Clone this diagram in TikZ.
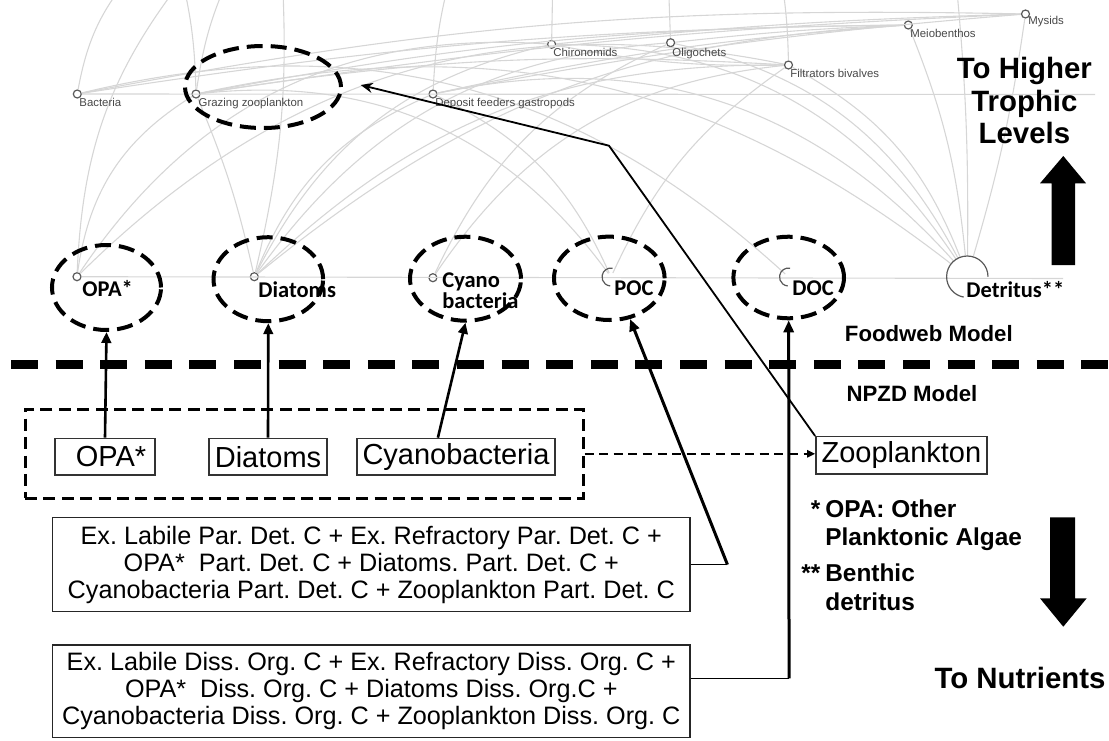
\documentclass[tikz,border=0pt]{standalone}
\usepackage{fontspec}
\setmainfont{Liberation Sans}
\newfontfamily\calibfont{Carlito}
\usetikzlibrary{shapes.geometric,arrows.meta,calc}
\begin{document}
\frenchspacing
\begin{tikzpicture}[x=0.5pt,y=-0.5pt,
  web/.style={draw=black!16, line width=0.55pt},
  fwdot/.style={circle, draw=black!65, line width=0.6pt, inner sep=0pt, minimum size=4pt},
  hub/.style={circle, inner sep=0pt, minimum size=4pt},
  ring/.style={draw=black!65, line width=0.6pt},
  fwlab/.style={anchor=base west, inner sep=0pt, text=black!72, font=\fontsize{5.7}{6.5}\selectfont},
  poollab/.style={anchor=base west, inner sep=0pt, font=\calibfont\bfseries\fontsize{11.25}{10.4}\selectfont},
  pool/.style={ellipse, draw, line width=2pt, dash pattern=on 8pt off 4pt, inner sep=0pt,
    minimum width=55pt, minimum height=42pt},
  plain/.style={draw=black!80, line width=0.7pt, inner sep=0pt, minimum height=18.35pt,
    font=\fontsize{14.5}{16}\selectfont},
  formula/.style={draw=black!85, line width=0.75pt, inner sep=0pt, align=center,
    minimum width=318.7pt, font=\fontsize{12.6}{13.5}\selectfont},
  group/.style={draw, line width=1.5pt, dash pattern=on 6pt off 3.2pt, inner sep=0pt,
    minimum width=279pt, minimum height=44.5pt},
  divider/.style={line width=4.6pt, dash pattern=on 13.5pt off 8.8pt},
  feed/.style={line width=1.3pt, -{Triangle[length=5.5pt,width=4.8pt]}},
  bigfeed/.style={line width=1.5pt, -{Triangle[length=6pt,width=5pt]}},
  link/.style={line width=0.7pt},
  zlink/.style={line width=0.9pt, -{Stealth[length=6pt,width=5pt]}},
  dashlink/.style={line width=1.2pt, dash pattern=on 4.5pt off 2.8pt, -{Triangle[length=4pt,width=3.6pt]}},
  heading/.style={font=\bfseries\fontsize{11.1}{13}\selectfont, inner sep=0pt, anchor=base},
  bigword/.style={font=\bfseries\fontsize{14.7}{16.25}\selectfont, inner sep=0pt, align=center},
]
\useasboundingbox (0,0) rectangle (1109,740);
\clip (0,0) rectangle (1109,740);

% ---------- food web: consumer nodes ----------
\node[fwdot] (ba) at (77.3,94) {};
\node[fwdot] (gz) at (196,94) {};
\node[fwdot] (df) at (433,94) {};
\node[fwdot] (ch) at (551.6,44.3) {};
\node[fwdot] (ol) at (670.6,42.7) {};
\node[fwdot] (fb) at (788.5,65) {};
\node[fwdot] (me) at (908.3,25) {};
\node[fwdot] (my) at (1025.5,14) {};

% ---------- food web: primary producers and carbon pools ----------
\node[fwdot] (opa) at (77,276.7) {};
\node[fwdot] (dia) at (254.3,276.7) {};
\node[fwdot] (cya) at (432.9,277.7) {};
\node[hub] (poc) at (611,277) {};
\node[hub] (doc) at (788.5,277) {};
\node[hub, minimum size=20.7pt] (det) at (967.3,276.7) {};

% loose ends of the web that run out of the frame
\coordinate (t1) at (135,-30);
\coordinate (t2) at (190,-30);
\coordinate (t3) at (180,-30);
\coordinate (t4) at (232,-30);
\coordinate (t5) at (282,-30);
\coordinate (t6) at (452,-30);
\coordinate (t7) at (553,-30);
\coordinate (t8) at (668,-30);
\coordinate (t9) at (780,-30);
\coordinate (t10) at (955,-30);
\coordinate (tr) at (1095,94.5);
\coordinate (br) at (1063,278.5);

% ---------- trophic links ----------
\draw[web] (ba) -- (tr);
\draw[web] (opa) -- (br);
\draw[web] (ba) to[bend left=15] (t1);
\draw[web] (opa) to[bend left=18] (t2);
\draw[web] (gz) to[bend right=6] (t3);
\draw[web] (gz) to[bend left=8] (t4);
\draw[web] (dia) to[bend right=8] (t5);
\draw[web] (df) to[bend left=6] (t6);
\draw[web] (ch) -- (t7);
\draw[web] (ol) -- (t8);
\draw[web] (fb) to[bend right=4] (t9);
\draw[web] (det) to[bend right=3] (t10);

\draw[web] (opa) to[bend left=25] (gz);
\draw[web] (opa) to[bend left=28] (fb);
\draw[web] (opa) to[bend left=30] (ch);
\draw[web] (dia) to[bend right=5] (gz);
\draw[web] (dia) to[bend left=22] (df);
\draw[web] (dia) to[bend left=25] (ch);
\draw[web] (dia) to[bend left=25] (ol);
\draw[web] (dia) to[bend left=22] (fb);
\draw[web] (dia) to[bend left=18] (me);
\draw[web] (cya) to[bend left=25] (fb);
\draw[web] (cya) to[bend left=20] (ol);
\draw[web] (poc) to[bend right=20] (df);
\draw[web] (poc) to[bend left=15] (fb);
\draw[web] (ba) to[bend left=28] (doc);
\draw[web] (gz) to[bend left=30] (poc);
\draw[web] (gz) to[bend left=25] (det);
\draw[web] (det) to[bend right=4] (my);
\draw[web] (det) to[bend right=8] (me);
\draw[web] (det) to[bend right=20] (fb);
\draw[web] (det) to[bend right=25] (ol);
\draw[web] (det) to[bend right=28] (ch);
\draw[web] (det) to[bend right=30] (df);

\draw[web] (ba) to[bend left=6] (my);
\draw[web] (ba) to[bend left=4] (me);
\draw[web] (gz) to[bend left=5] (me);
\draw[web] (gz) to[bend left=3] (my);
\draw[web] (df) to[bend left=4] (me);
\draw[web] (df) to[bend left=3] (my);
\draw[web] (ch) to[bend left=2] (my);
\draw[web] (ol) to[bend left=2] (me);
\draw[web] (gz) to[bend left=6] (fb);
\draw[web] (ch) to[bend right=6] (fb);

% open rings of the detrital pools
\draw[ring] ([shift={(80:4.5pt)}]poc.center) arc[start angle=80, end angle=265, radius=4.5pt];
\draw[ring] ([shift={(80:4.5pt)}]doc.center) arc[start angle=80, end angle=265, radius=4.5pt];
\draw[ring] ([shift={(0:10.35pt)}]det.center) arc[start angle=0, end angle=260, radius=10.35pt];

% ---------- node labels of the food web ----------
\node[fwlab] (lba) at (79,106) {Bacteria};
\node[fwlab] (lgz) at (198.3,106) {Grazing zooplankton};
\node[fwlab] (ldf) at (435,106) {Deposit feeders gastropods};
\node[fwlab] (lch) at (553,56.7) {Chironomids};
\node[fwlab] (lol) at (672,56) {Oligochets};
\node[fwlab] (lfb) at (790,77.3) {Filtrators bivalves};
\node[fwlab] (lme) at (910,37.3) {Meiobenthos};
\node[fwlab] (lmy) at (1028,24) {Mysids};

\node[poollab] (lopa) at (82,296.7) {OPA*};
\node[poollab] (ldia) at (258,297.7) {Diatoms};
\node[poollab, anchor=north west, align=left] (lcya) at (442,272.5) {Cyano\\bacteria};
\node[poollab] (lpoc) at (614,295.7) {POC};
\node[poollab] (ldoc) at (792,295.7) {DOC};
\node[poollab] (ldet) at (966,297) {Detritus**};

% ---------- pools shared by both models ----------
\node[pool, minimum width=78pt, minimum height=41pt] (eg) at (263,87) {};
\node[pool, minimum width=54.5pt, minimum height=42.5pt] (e1) at (106.5,287.5) {};
\node[pool, minimum width=54.8pt] (e2) at (268.3,279.2) {};
\node[pool, minimum width=55.5pt] (e3) at (465.5,278.7) {};
\node[pool, minimum width=55.3pt, minimum height=41.7pt] (e4) at (609.3,278.3) {};
\node[pool, minimum width=55.3pt, minimum height=40.8pt] (e5) at (788.7,277.5) {};

% ---------- upward arrow and model headings ----------
\node[bigword, anchor=north] (higher) at (1024.4,57) {To Higher\\Trophic\\Levels};
\fill (1051.7,265) -- (1051.7,183.3) -- (1040,183.3) -- (1063.3,156) -- (1086,183.3)
      -- (1075,183.3) -- (1075,265) -- cycle;
\node[heading] (fwm) at (928.8,341.7) {Foodweb Model};
\draw[divider] (11,364.3) -- (1109,364.3);
\node[heading] (npzd) at (912,401.7) {NPZD Model};

% ---------- NPZD state variables ----------
\node[group] (grp) at (304,453.8) {};
\node[plain, minimum width=50pt] (bopa) at (105,456.7) {\hspace*{6pt}OPA*};
\node[plain, minimum width=59pt] (bdia) at (268,456.7) {Diatoms};
\node[plain, minimum width=99pt] (bcya) at (456,456.7) {Cyanobacteria};
\node[plain, minimum width=85.6pt, minimum height=18.65pt] (bzoo) at (901.4,455.3) {Zooplankton};

\draw[feed] (bopa.north) -- (e1.south);
\draw[feed] (bdia.north) -- (e2.south);
\draw[feed] ($(bcya.north west)+(81.6,0)$) -- (e3.south);
\draw[dashlink] (grp.east) -- (grp.east -| bzoo.west);
\draw[zlink] (bzoo.north west) -- (609,145.7) -- ($(eg.east)+(17.7,-2)$);

% ---------- aggregated carbon pools ----------
\node[formula, minimum height=47.1pt] (f1) at (371.3,564.6)
  {Ex. Labile Par. Det. C + Ex. Refractory Par. Det. C +\\
   OPA*\ \ Part. Det. C + Diatoms. Part. Det. C +\\
   Cyanobacteria Part. Det. C + Zooplankton Part. Det. C};
\node[formula, minimum height=46.2pt] (f2) at (371.3,691.2)
  {Ex. Labile Diss. Org. C + Ex. Refractory Diss. Org. C +\\
   OPA*\ \ Diss. Org. C + Diatoms Diss. Org.C +\\
   Cyanobacteria Diss. Org. C + Zooplankton Diss. Org. C};

\draw[link] (f1.east) -- ++(36.7,0) coordinate (pk);
\draw[bigfeed] (pk) -- (e4.-63);
\draw[link] ($(f2.north east)+(0,34)$) -- ++(98.3,0) coordinate (dk);
\draw[bigfeed] (dk) -- (e5.south);

% ---------- legend and downward arrow ----------
\node[anchor=base west, inner sep=0pt, font=\bfseries\fontsize{12.2}{14.25}\selectfont] (legend) at (801,517.3)
  {\begin{tabular}[t]{@{}r@{\hspace{2.5pt}}l@{}}
   *&OPA: Other\\
    &Planktonic Algae\\[3.75pt]
   **&Benthic\\
    &detritus
   \end{tabular}};
\fill (1050,517.3) -- (1075,517.3) -- (1075,598.3) -- (1086.7,598.3) -- (1063.3,626.7)
      -- (1040,598.3) -- (1050,598.3) -- cycle;
\node[bigword, anchor=base] (nutr) at (1020,688.3) {To Nutrients};
\end{tikzpicture}
\end{document}
